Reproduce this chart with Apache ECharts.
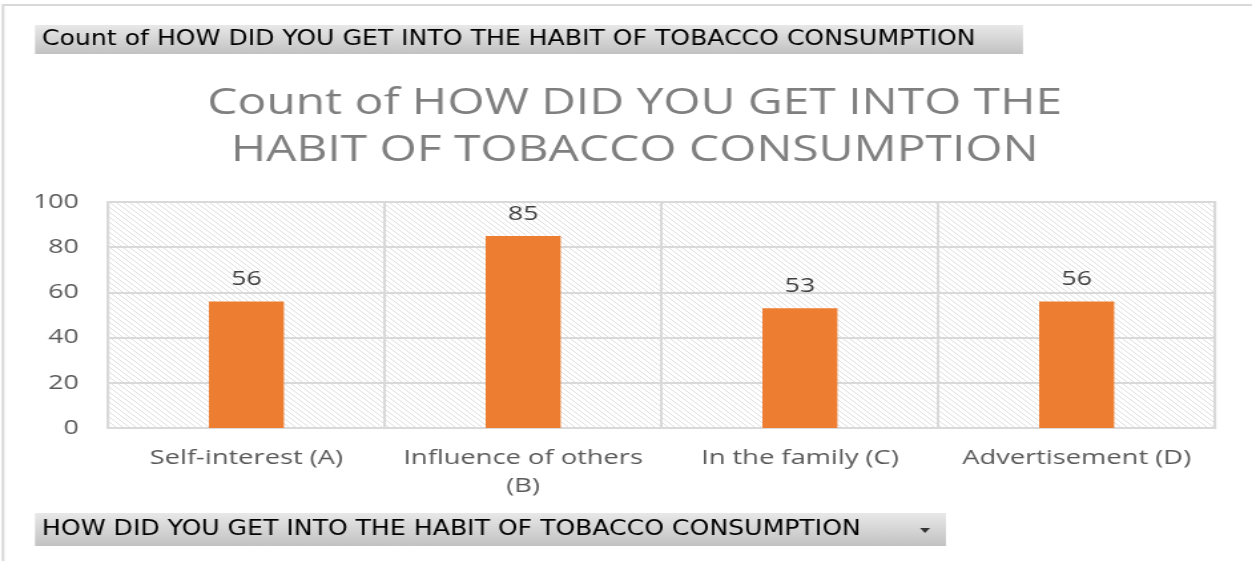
<!DOCTYPE html>
<html>
<head>
<meta charset="utf-8">
<script src="https://cdn.jsdelivr.net/npm/echarts@6/dist/echarts.min.js"></script>
<style>
html, body { margin: 0; padding: 0; background: #fff; overflow: hidden; }
/* the reference is a horizontally stretched screenshot, so draw narrow and stretch */
#myChart {
  width: 941px;
  height: 561px;
  transform: scaleX(1.3305);
  transform-origin: 0 0;
}
</style>
</head>
<body>
<div id="myChart"></div>
<script>
const categories = ["Self-interest (A)", "Influence of others\n(B)", "In the family (C)", "Advertisement (D)"];
const counts = [56, 85, 53, 56];
const yTicks = [0, 20, 40, 60, 80, 100];

// hatched pattern for the plot area
function makeHatch() {
  const n = 5;
  const c = document.createElement("canvas");
  c.width = n;
  c.height = n;
  const ctx = c.getContext("2d");
  ctx.fillStyle = "#ffffff";
  ctx.fillRect(0, 0, n, n);
  ctx.strokeStyle = "#e0e0e0";
  ctx.lineWidth = 1;
  ctx.beginPath();
  ctx.moveTo(0, 0);
  ctx.lineTo(n, n);
  ctx.moveTo(-n / 2, n / 2);
  ctx.lineTo(n / 2, n * 1.5);
  ctx.moveTo(n / 2, -n / 2);
  ctx.lineTo(n * 1.5, n / 2);
  ctx.stroke();
  return c;
}

const btnFill = () =>
  new echarts.graphic.LinearGradient(0, 0, 0, 1, [
    { offset: 0, color: "#e8e8e8" },
    { offset: 1, color: "#c2c2c2" },
  ]);

let myChart = echarts.init(document.getElementById("myChart"));
myChart.setOption({
  backgroundColor: "#ffffff",
  animation: false,
  title: {
    text: "Count of HOW DID YOU GET INTO THE\nHABIT OF TOBACCO CONSUMPTION",
    left: 472,
    textAlign: "center",
    top: 75,
    textStyle: {
      color: "#7f7f7f",
      fontFamily: "Open Sans",
      fontWeight: "normal",
      fontSize: 36,
      lineHeight: 47,
    },
  },
  graphic: [
    // outer frame
    {
      type: "polyline",
      shape: { points: [[2.3, 561], [2.3, 5], [941, 5]] },
      style: { stroke: "#d9d9d9", lineWidth: 2, fill: null },
    },
    // top field button
    {
      type: "rect",
      shape: { x: 26.3, y: 25, width: 742.6, height: 29 },
      style: { fill: btnFill() },
    },
    {
      type: "text",
      x: 31.6,
      y: 39.5,
      style: {
        text: "Count of HOW DID YOU GET INTO THE HABIT OF TOBACCO CONSUMPTION",
        font: '21px "DejaVu Sans Condensed"',
        fill: "#000",
        verticalAlign: "middle",
      },
    },
    // bottom field button
    {
      type: "rect",
      shape: { x: 26.3, y: 513, width: 684.7, height: 33 },
      style: { fill: btnFill() },
    },
    {
      type: "text",
      x: 31.6,
      y: 530,
      style: {
        text: "HOW DID YOU GET INTO THE HABIT OF TOBACCO CONSUMPTION",
        font: '21px "DejaVu Sans Condensed"',
        fill: "#000",
        verticalAlign: "middle",
      },
    },
    {
      type: "polygon",
      shape: { points: [[691.5, 528], [699, 528], [695.2, 533]] },
      style: { fill: "#333" },
    },
  ],
  grid: {
    left: 81.2,
    right: 27.8,
    top: 202,
    height: 226,
    show: true,
    backgroundColor: { image: makeHatch(), repeat: "repeat" },
    borderColor: "#d9d9d9",
    borderWidth: 2,
  },
  xAxis: {
    type: "category",
    data: categories,
    axisLine: { lineStyle: { color: "#d9d9d9", width: 2 } },
    axisTick: { show: false },
    splitLine: { show: true, lineStyle: { color: "#d9d9d9", width: 2 } },
    axisLabel: {
      color: "#595959",
      fontFamily: "Open Sans",
      fontSize: 20.5,
      lineHeight: 28,
      margin: 16,
      interval: 0,
    },
  },
  yAxis: {
    type: "value",
    min: 0,
    max: 100,
    interval: 20,
    axisLine: { show: false },
    axisTick: { show: false },
    splitLine: { lineStyle: { color: "#d9d9d9", width: 2 } },
    axisLabel: {
      color: "#595959",
      fontFamily: "Open Sans",
      fontSize: 20,
      margin: 22,
      formatter: (v) => (yTicks.includes(v) ? String(v) : ""),
    },
  },
  series: [
    {
      type: "bar",
      data: counts,
      barWidth: 56.4,
      itemStyle: { color: "#ed7d31" },
      label: {
        show: true,
        position: "top",
        distance: 12,
        color: "#404040",
        fontFamily: "Open Sans",
        fontSize: 20,
      },
    },
  ],
});
</script>
</body>
</html>
